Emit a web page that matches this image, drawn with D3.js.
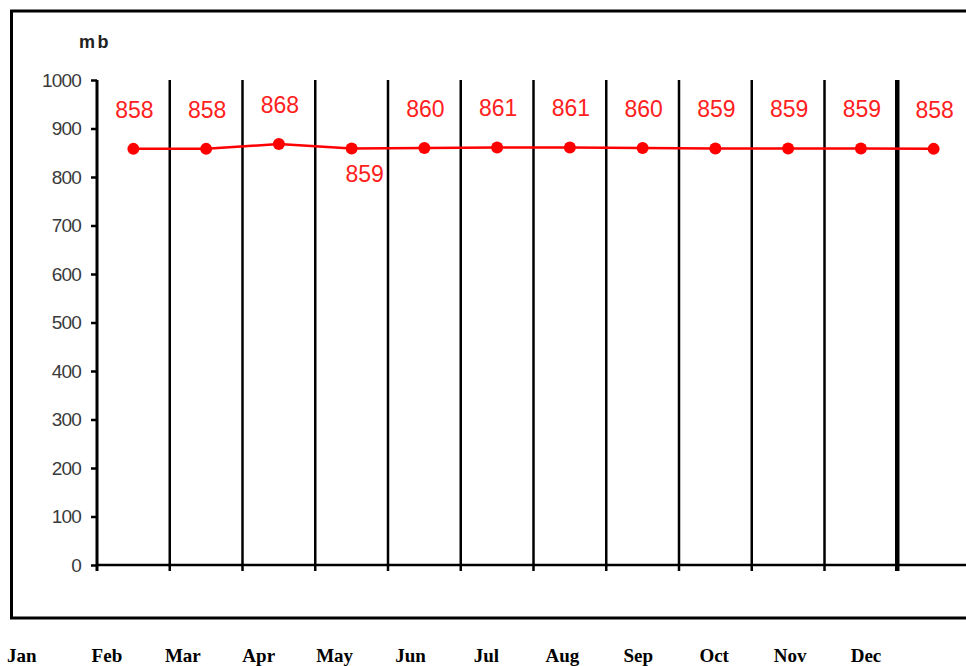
<!DOCTYPE html>
<html>
<head>
<meta charset="utf-8">
<script src="https://cdn.jsdelivr.net/npm/d3@7"></script>
<style>
  html, body { margin: 0; padding: 0; background: #fff; }
  svg { display: block; }
</style>
</head>
<body>
<svg id="chart" width="966" height="666"></svg>
<script>
// Monthly mean station pressure (mb)
const months = ["Jan","Feb","Mar","Apr","May","Jun","Jul","Aug","Sep","Oct","Nov","Dec"];
const pressure = [858, 858, 868, 859, 860, 861, 861, 860, 859, 859, 859, 858];
// Apr's value label is placed under its point
const labelBelow = ["Apr"];
const yTicks = [0, 100, 200, 300, 400, 500, 600, 700, 800, 900, 1000];
const unitLabel = "mb";

(function () {
  const svg = d3.select("#chart");
  const W = 966;

  // Plot geometry
  const plotLeft = 97, plotTop = 80, plotBottom = 565;
  const colW = 72.75;
  const pageMargin = 7;

  const x = d3.scaleBand().domain(months).range([plotLeft, plotLeft + colW * months.length]).padding(0);
  const y = d3.scaleLinear().domain([0, 1000]).range([plotBottom, plotTop]);

  // Outer frame (runs off the right edge)
  svg.append("rect")
    .attr("x", 11.5).attr("y", 11)
    .attr("width", 990).attr("height", 607)
    .attr("fill", "none").attr("stroke", "#000").attr("stroke-width", 3);

  // Unit label
  svg.append("text")
    .attr("x", 95).attr("y", 48)
    .attr("text-anchor", "middle")
    .attr("font-family", "Liberation Sans, Arial, sans-serif")
    .attr("font-weight", "bold").attr("font-size", 18)
    .attr("letter-spacing", 2.5)
    .attr("fill", "#222")
    .text(unitLabel);

  // Y axis
  const yAxis = d3.axisLeft(y).tickValues(yTicks).tickFormat(d3.format("d"))
    .tickSize(6).tickSizeOuter(0).tickPadding(10);
  const gy = svg.append("g").attr("transform", `translate(${plotLeft},0)`).call(yAxis);
  gy.select(".domain").remove();
  gy.selectAll(".tick line").attr("stroke", "#000").attr("stroke-width", 2.5);
  gy.selectAll(".tick text")
    .attr("font-family", "Liberation Sans, Arial, sans-serif")
    .attr("font-size", 19).attr("letter-spacing", -0.8)
    .attr("fill", "#3a3a3a");

  // Column separators at band boundaries (first one is the y axis spine)
  const bounds = months.map(m => x(m));
  svg.append("g").selectAll("line")
    .data(bounds)
    .join("line")
    .attr("x1", d => d).attr("x2", d => d)
    .attr("y1", y(1000)).attr("y2", y(0) + 6)
    .attr("stroke", "#000")
    .attr("stroke-width", (d, i) => i === 0 ? 3 : (i === months.length - 1 ? 4.5 : 2.5));

  // X axis baseline
  svg.append("line")
    .attr("x1", plotLeft).attr("x2", W + 10)
    .attr("y1", y(0)).attr("y2", y(0))
    .attr("stroke", "#000").attr("stroke-width", 2.5);

  // Pressure series
  const cx = m => x(m) + x.bandwidth() / 2;
  const data = months.map((m, i) => ({ m, v: pressure[i] }));

  svg.append("path")
    .datum(data)
    .attr("fill", "none").attr("stroke", "#ff0000").attr("stroke-width", 2.5)
    .attr("d", d3.line().x(d => cx(d.m)).y(d => y(d.v)));

  svg.append("g").selectAll("circle")
    .data(data).join("circle")
    .attr("cx", d => cx(d.m)).attr("cy", d => y(d.v))
    .attr("r", 6).attr("fill", "#ff0000");

  svg.append("g").selectAll("text")
    .data(data).join("text")
    .attr("x", d => cx(d.m) + (labelBelow.includes(d.m) ? 13 : 1))
    .attr("y", d => y(d.v) + (labelBelow.includes(d.m) ? 34 : -31))
    .attr("text-anchor", "middle")
    .attr("font-family", "Liberation Sans, Arial, sans-serif")
    .attr("font-size", 23)
    .attr("fill", "#ff2020")
    .text(d => d.v);

  // Month row below the frame; the first label is pinned to the page margin
  const mx = d3.scalePoint().domain(months).range([31, 866]);
  svg.append("g").selectAll("text")
    .data(months).join("text")
    .attr("x", (d, i) => i === 0 ? pageMargin : mx(d))
    .attr("y", 662)
    .attr("text-anchor", (d, i) => i === 0 ? "start" : "middle")
    .attr("font-family", "Liberation Serif, Times New Roman, serif")
    .attr("font-weight", "bold").attr("font-size", 19)
    .attr("fill", "#000")
    .text(d => d);
})();
</script>
</body>
</html>
